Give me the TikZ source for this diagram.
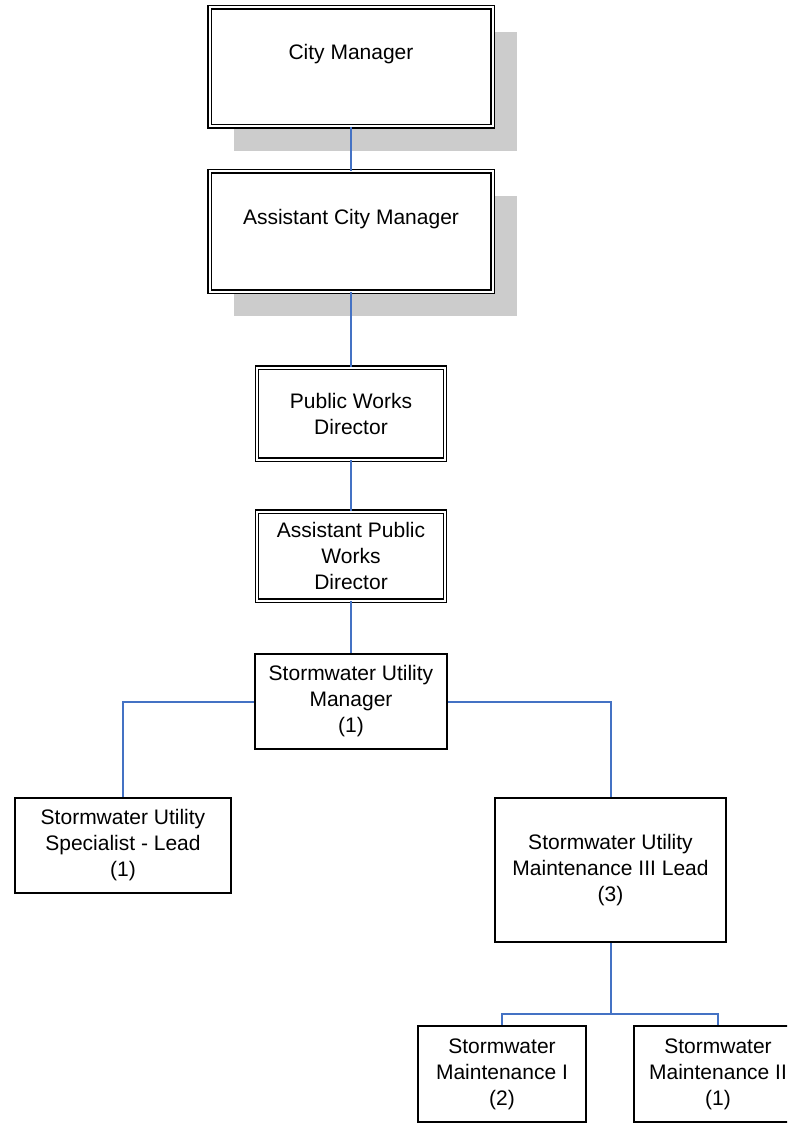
\documentclass[tikz,border=0pt]{standalone}
\usepackage{fontspec}
\setmainfont{Liberation Sans}
\usetikzlibrary{shadows}

\definecolor{lineblue}{RGB}{68,114,196}

\tikzset{
  box/.style={draw, fill=white, rectangle, line width=1.6pt, align=center, inner sep=2pt,
    font=\fontsize{21}{26}\selectfont},
  execbox/.style={box, double, double distance=2pt, line width=1.4pt},
  topbox/.style={execbox, text depth=30pt,
    drop shadow={shadow xshift=24pt, shadow yshift=-24.5pt, fill=black!20, opacity=1}},
  orgline/.style={draw=lineblue, line width=2pt}
}

\begin{document}
\begin{tikzpicture}[x=1pt, y=1pt]
    \path[use as bounding box, clip] (0,0) rectangle (787,-1123);

    \node[topbox, minimum width=283pt, minimum height=119pt] (cm) at (351,-67) {City Manager};
    \node[topbox, minimum width=283pt, minimum height=120pt, node distance=164.5pt, below of=cm] (acm) {Assistant City Manager};
    \node[execbox, minimum width=188pt, minimum height=92pt, node distance=182pt, below of=acm] (pwd) {Public Works\\Director};
    \node[execbox, minimum width=188pt, minimum height=89pt, node distance=142.5pt, below of=pwd] (apwd) {Assistant Public\\Works\\Director};
    \node[box, minimum width=192pt, minimum height=95pt, node distance=145.5pt, below of=apwd] (sum) {Stormwater Utility\\Manager\\(1)};
    \node[box, minimum width=216pt, minimum height=95pt, node distance=144pt, below of=sum, xshift=-228pt] (spec) {Stormwater Utility\\Specialist - Lead\\(1)};
    \node[box, minimum width=231pt, minimum height=144pt, node distance=168.5pt, below of=sum, xshift=259.5pt] (mlead) {Stormwater Utility\\Maintenance III Lead\\(3)};
    \node[box, minimum width=168pt, minimum height=96pt, node distance=204pt, below of=mlead, xshift=-108.5pt] (mone) {Stormwater\\Maintenance I\\(2)};
    \node[box, minimum width=168pt, minimum height=96pt, node distance=216pt, right of=mone] (mtwo) {Stormwater\\Maintenance II\\(1)};

    \draw[orgline] (cm) -- (acm);
    \draw[orgline] (acm) -- (pwd);
    \draw[orgline] (pwd) -- (apwd);
    \draw[orgline] (apwd) -- (sum);
    \draw[orgline] (sum.west) -| (spec.north);
    \draw[orgline] (sum.east) -| (mlead.north);
    \draw[orgline] (mlead.south) -- ++(0,-71) coordinate (split) -| (mone.north);
    \draw[orgline] (split) -| (mtwo.north);
\end{tikzpicture}
\end{document}
